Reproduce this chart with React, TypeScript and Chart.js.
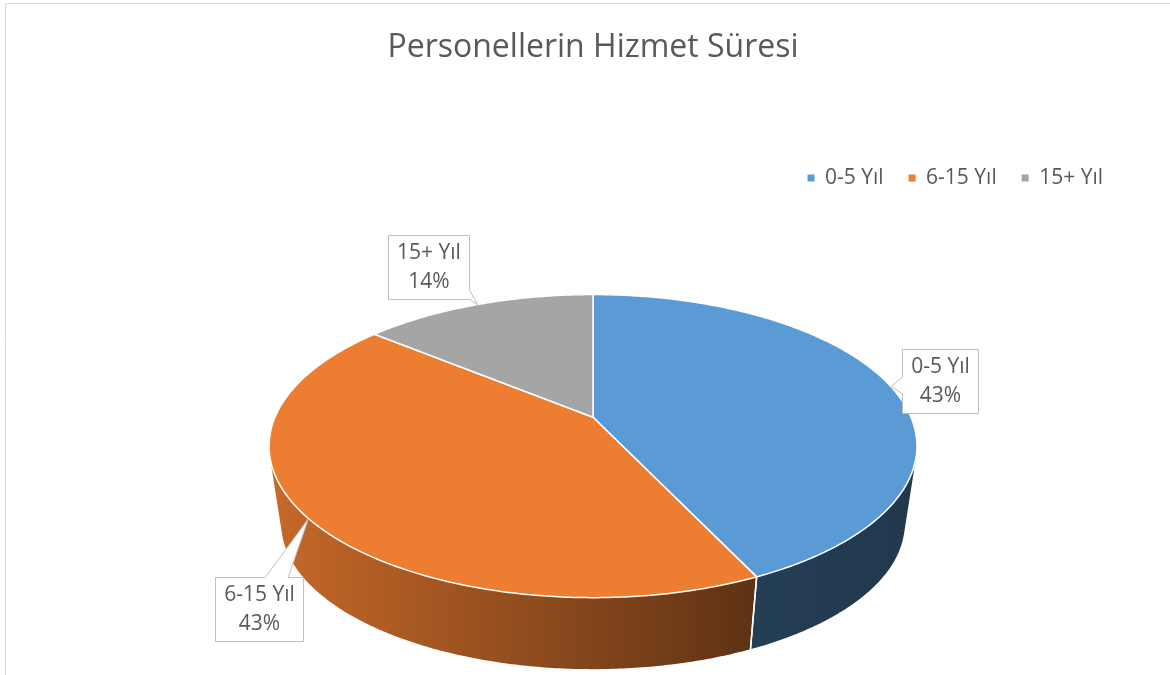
import { useEffect, useRef } from "react";
import { Chart, registerables } from "chart.js";

Chart.register(...registerables);

// ---- data ----
const categories = ["0-5 Yıl", "6-15 Yıl", "15+ Yıl"];
const shares = [43, 43, 14];
const sliceColors = ["#5B9BD5", "#ED7D31", "#A5A5A5"];
const chartTitle = "Personellerin Hizmet Süresi";
// callout box centre offsets from the slice tip (layout only)
const calloutOffsets = [
  [49, -6],
  [-49, 90],
  [-49, -38],
];

// ---- 3D look (ratios of the library's outer radius) ----
const GEO = { a: 1.4533, b: 0.6674, a2: 1.3986, b2: 0.6405, drop: 0.36, persp: 0.1908 };
const FONT = "'Open Sans'";
const TEXT = "#595959";

function shade(hex: string, f: number) {
  const n = parseInt(hex.slice(1), 16);
  const r = Math.round(((n >> 16) & 255) * f);
  const g = Math.round(((n >> 8) & 255) * f);
  const b = Math.round((n & 255) * f);
  return `rgb(${r},${g},${b})`;
}

function project(cx: number, cy: number, A: number, B: number, ang: number) {
  const u = Math.cos(ang);
  const v = Math.sin(ang);
  const d = 1 - GEO.persp * v;
  return [cx + (A * u) / d, cy + (B * v) / d];
}

const pie3d = {
  id: "pie3d",
  beforeDraw(chart: any) {
    const ctx = chart.ctx as CanvasRenderingContext2D;
    ctx.save();
    ctx.strokeStyle = "#D9D9D9";
    ctx.lineWidth = 1;
    ctx.beginPath();
    ctx.moveTo(5.5, chart.height);
    ctx.lineTo(5.5, 3.5);
    ctx.lineTo(chart.width, 3.5);
    ctx.stroke();
    ctx.restore();
  },
  beforeDatasetsDraw(chart: any) {
    const meta = chart.getDatasetMeta(0);
    const arcs = meta.data as any[];
    if (!arcs.length) return false;
    const ctx = chart.ctx as CanvasRenderingContext2D;
    const cx = arcs[0].x;
    const cy = arcs[0].y;
    const R = arcs[0].outerRadius;
    const A = GEO.a * R, B = GEO.b * R, A2 = GEO.a2 * R, B2 = GEO.b2 * R;
    const cy2 = cy + GEO.drop * R;
    const top = (t: number) => project(cx, cy, A, B, t);
    const bot = (t: number) => project(cx, cy2, A2, B2, t);
    const fMin = -0.2, fMax = Math.PI + 0.2;

    ctx.save();
    // ---- side walls ----
    arcs.forEach((arc: any, i: number) => {
      const s = arc.startAngle, e = arc.endAngle;
      const ranges: number[][] = [];
      for (const k of [-1, 0, 1]) {
        const lo = Math.max(s, fMin + k * 2 * Math.PI);
        const hi = Math.min(e, fMax + k * 2 * Math.PI);
        if (hi > lo) ranges.push([lo, hi]);
      }
      if (!ranges.length) return;
      const grad = ctx.createLinearGradient(cx - A * 1.02, 0, cx + A * 1.02, 0);
      grad.addColorStop(0, shade(sliceColors[i], 0.84));
      grad.addColorStop(0.75, shade(sliceColors[i], 0.4));
      grad.addColorStop(1, shade(sliceColors[i], 0.36));
      ctx.beginPath();
      for (const [lo, hi] of ranges) {
        const n = Math.max(2, Math.ceil((hi - lo) / 0.01));
        for (let j = 0; j < n; j++) {
          const t0 = lo + ((hi - lo) * j) / n;
          const t1 = lo + ((hi - lo) * (j + 1)) / n;
          let q = [top(t0), top(t1), bot(t1), bot(t0)];
          let area = 0;
          for (let m = 0; m < 4; m++) {
            const p1 = q[m], p2 = q[(m + 1) % 4];
            area += p1[0] * p2[1] - p2[0] * p1[1];
          }
          if (area < 0) q = q.reverse();
          ctx.moveTo(q[0][0], q[0][1]);
          for (let m = 1; m < 4; m++) ctx.lineTo(q[m][0], q[m][1]);
          ctx.closePath();
        }
      }
      ctx.fillStyle = grad;
      ctx.fill("nonzero");
    });
    // seams on the wall
    ctx.strokeStyle = "#FFFFFF";
    ctx.lineWidth = 1.5;
    arcs.forEach((arc: any) => {
      for (const b of [arc.startAngle, arc.endAngle]) {
        if (Math.sin(b) > 0.05) {
          const p1 = top(b), p2 = bot(b);
          ctx.beginPath();
          ctx.moveTo(p1[0], p1[1]);
          ctx.lineTo(p2[0], p2[1]);
          ctx.stroke();
        }
      }
    });
    // ---- top faces ----
    ctx.lineJoin = "round";
    arcs.forEach((arc: any, i: number) => {
      const s = arc.startAngle, e = arc.endAngle;
      const n = Math.max(4, Math.ceil((e - s) / 0.01));
      ctx.beginPath();
      ctx.moveTo(cx, cy);
      for (let j = 0; j <= n; j++) {
        const p = top(s + ((e - s) * j) / n);
        ctx.lineTo(p[0], p[1]);
      }
      ctx.closePath();
      ctx.fillStyle = sliceColors[i];
      ctx.fill();
      ctx.strokeStyle = "#FFFFFF";
      ctx.lineWidth = 1.5;
      ctx.stroke();
    });

    // ---- callout labels ----
    const total = shares.reduce((p, c) => p + c, 0);
    ctx.font = `21px ${FONT}`;
    ctx.textAlign = "center";
    ctx.textBaseline = "middle";
    arcs.forEach((arc: any, i: number) => {
      const mid = (arc.startAngle + arc.endAngle) / 2;
      const tip = top(mid);
      const l1 = categories[i];
      const l2 = Math.round((shares[i] / total) * 100) + "%";
      const tw = Math.max(ctx.measureText(l1).width, ctx.measureText(l2).width);
      const w = Math.round(tw + 17), h = 64;
      const bx = Math.round(tip[0] + calloutOffsets[i][0] - w / 2) + 0.5;
      const by = Math.round(tip[1] + calloutOffsets[i][1] - h / 2) + 0.5;
      const ccx = bx + w / 2, ccy = by + h / 2;
      const dx = tip[0] - ccx, dy = tip[1] - ccy;
      const tx = dx !== 0 ? (w / 2) / Math.abs(dx) : Infinity;
      const ty = dy !== 0 ? (h / 2) / Math.abs(dy) : Infinity;
      const pts: number[][] = [];
      const corners = [
        [bx, by],
        [bx + w, by],
        [bx + w, by + h],
        [bx, by + h],
      ];
      let edge: number; // 0 top,1 right,2 bottom,3 left
      let ex: number, ey: number;
      if (ty < tx) {
        edge = dy < 0 ? 0 : 2;
        ex = ccx + dx * ty;
        ey = ccy + dy * ty;
      } else {
        edge = dx > 0 ? 1 : 3;
        ex = ccx + dx * tx;
        ey = ccy + dy * tx;
      }
      const half = (edge === 0 || edge === 2 ? w : h) * 0.13;
      for (let c = 0; c < 4; c++) {
        pts.push(corners[c]);
        if (c === edge) {
          const from = corners[c], to = corners[(c + 1) % 4];
          if (edge === 0 || edge === 2) {
            const lo = Math.max(bx, ex - half), hi = Math.min(bx + w, ex + half);
            const a1 = edge === 0 ? lo : hi, a2 = edge === 0 ? hi : lo;
            pts.push([a1, from[1]], tip, [a2, to[1]]);
          } else {
            const lo = Math.max(by, ey - half), hi = Math.min(by + h, ey + half);
            const a1 = edge === 1 ? lo : hi, a2 = edge === 1 ? hi : lo;
            pts.push([from[0], a1], tip, [to[0], a2]);
          }
        }
      }
      ctx.beginPath();
      ctx.moveTo(pts[0][0], pts[0][1]);
      for (let m = 1; m < pts.length; m++) ctx.lineTo(pts[m][0], pts[m][1]);
      ctx.closePath();
      ctx.fillStyle = "#FFFFFF";
      ctx.fill();
      ctx.strokeStyle = "#BFBFBF";
      ctx.lineWidth = 1;
      ctx.lineJoin = "miter";
      ctx.stroke();
      ctx.fillStyle = TEXT;
      ctx.fillText(l1, ccx, ccy - 14);
      ctx.fillText(l2, ccx, ccy + 15);
    });
    ctx.restore();
    return false;
  },
};

export default function App() {
  const ref = useRef<HTMLCanvasElement | null>(null);
  useEffect(() => {
    if (!ref.current) return;
    const chart = new Chart(ref.current, {
      type: "pie",
      data: {
        labels: categories,
        datasets: [{ data: shares, backgroundColor: sliceColors, borderWidth: 0 }],
      },
      options: {
        responsive: false,
        animation: false,
        devicePixelRatio: 1,
        layout: { padding: { left: 58, right: 42, top: 0, bottom: 39 } },
        plugins: {
          title: {
            display: true,
            text: chartTitle,
            color: TEXT,
            font: { family: FONT, size: 32, weight: "normal" },
            padding: { top: 29, bottom: 75 },
          },
          legend: {
            position: "top",
            align: "end",
            labels: {
              usePointStyle: true,
              pointStyle: "rect",
              boxWidth: 7,
              boxHeight: 7,
              padding: 25,
              color: TEXT,
              font: { family: FONT, size: 21 },
            },
          },
          tooltip: { enabled: false },
        },
      } as any,
      plugins: [pie3d as any],
    });
    return () => chart.destroy();
  }, []);
  return (
    <div style={{ position: "fixed", left: 0, top: 0, width: 1170, height: 675, background: "#FFFFFF" }}>
      <canvas ref={ref} width={1170} height={675} style={{ display: "block" }} />
    </div>
  );
}
